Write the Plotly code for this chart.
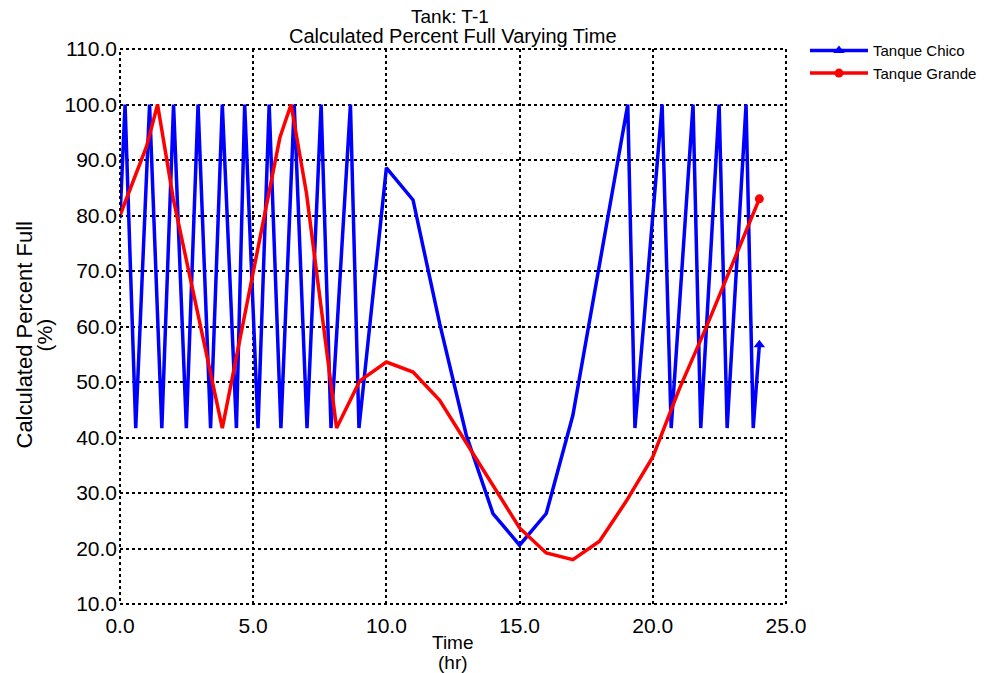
import plotly.graph_objects as go

# Tank level time series (percent full) for the two tanks
t_chico = [0, 0.19, 0.59, 1.11, 1.57, 2.01, 2.49, 2.93, 3.40, 3.84, 4.37, 4.68,
           5.18, 5.60, 6.04, 6.54, 7.02, 7.55, 7.92, 8.65, 8.97, 10, 11, 12, 13,
           14, 15, 16, 17, 18, 19.06, 19.33, 20.35, 20.69, 21.51, 21.80, 22.49,
           22.79, 23.50, 23.77, 24]
v_chico = [79.5, 100, 41.7, 100, 41.7, 100, 41.7, 100, 41.7, 100, 41.7, 100,
           41.7, 100, 41.7, 100, 41.7, 100, 41.7, 100, 41.7, 88.6, 82.8, 60.5,
           40.4, 26.3, 20.6, 26.3, 44.0, 71.5, 100, 41.7, 100, 41.7, 100, 41.7,
           100, 41.7, 100, 41.7, 56.7]

t_grande = [0, 1, 1.41, 2, 3.84, 6, 6.42, 7, 8.13, 9, 10, 11, 12, 13, 14, 15,
            16, 17, 18, 19, 20, 21, 22, 23, 24]
v_grande = [80, 92.5, 100, 83, 41.7, 94, 100, 84, 41.7, 50.2, 53.6, 51.8, 46.7,
            39.0, 31.3, 23.7, 19.2, 18.0, 21.3, 28.5, 36.5, 48.8, 59.8, 71.5, 83.0]

x_ticks = [0, 5, 10, 15, 20, 25]
y_ticks = [10, 20, 30, 40, 50, 60, 70, 80, 90, 100, 110]

FONT = "Liberation Sans, Arial, sans-serif"
BLUE = "#0000FF"
RED = "#FF0000"

series = [
    ("Tanque Chico", t_chico, v_chico, BLUE, "triangle-up", 10),
    ("Tanque Grande", t_grande, v_grande, RED, "circle", 9),
]

fig = go.Figure()
for name, t, v, color, symbol, msize in series:
    fig.add_trace(go.Scatter(
        x=t, y=v, mode="lines", name=name, legendgroup=name, showlegend=False,
        line=dict(color=color, width=3.5), hoverinfo="x+y",
    ))
    # end-point marker, also provides the legend entry
    fig.add_trace(go.Scatter(
        x=t[-1:], y=v[-1:], mode="lines+markers", name=name, legendgroup=name,
        line=dict(color=color, width=3.5),
        marker=dict(symbol=symbol, size=msize, color=color),
    ))


def note(text, x, y, xshift=0, yshift=0, size=21, angle=0):
    return dict(text=text, xref="paper", yref="paper", x=x, y=y,
                xanchor="center", yanchor="middle", xshift=xshift,
                yshift=yshift, textangle=angle, showarrow=False,
                font=dict(size=size, family=FONT, color="black"))


fig.update_layout(
    width=986, height=673,
    margin=dict(l=120, r=200, t=49, b=69, autoexpand=False),
    paper_bgcolor="white", plot_bgcolor="white",
    font=dict(family=FONT, color="black", size=21),
    showlegend=True,
    legend=dict(x=1.0285, y=1.0264, xanchor="left", yanchor="top",
                font=dict(size=15, family=FONT, color="black"),
                bgcolor="rgba(0,0,0,0)", tracegroupgap=0, itemwidth=58),
    xaxis=dict(range=[0, 25], tickvals=x_ticks,
               ticktext=[f"{v:.1f}" for v in x_ticks],
               showgrid=True, gridcolor="black", griddash="dot", gridwidth=1.5,
               zeroline=False, showline=False, ticks="",
               ticklabelstandoff=7, tickfont=dict(size=21)),
    yaxis=dict(range=[10, 110], tickvals=y_ticks,
               ticktext=[f"{v:.1f}" for v in y_ticks],
               showgrid=True, gridcolor="black", griddash="dot", gridwidth=1.5,
               zeroline=False, showline=False, ticks="",
               ticklabelstandoff=2, tickfont=dict(size=21)),
    shapes=[dict(type="rect", xref="paper", yref="paper", x0=0, y0=0, x1=1, y1=1,
                 line=dict(color="black", width=2, dash="dot"))],
    annotations=[
        note("Tank: T-1", 0.495, 1.0, yshift=33, size=19),
        note("Calculated Percent Full Varying Time", 0.5, 1.0, yshift=13, size=20),
        note("Time", 0.5, 0.0, yshift=-38, size=19),
        note("(hr)", 0.5, 0.0, yshift=-58, size=19),
        note("Calculated Percent Full", 0.0, 0.5, xshift=-96, yshift=-9,
             size=22, angle=-90),
        note("(%)", 0.0, 0.5, xshift=-76, yshift=-9, size=21, angle=-90),
    ],
)

fig.write_html("out.html")
